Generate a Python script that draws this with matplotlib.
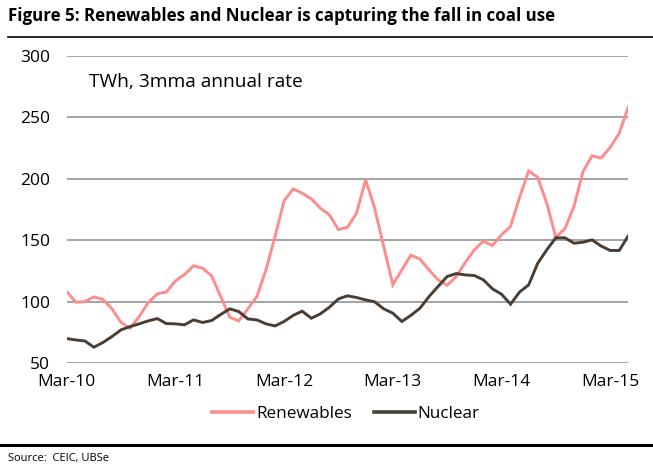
import matplotlib
matplotlib.use("Agg")
import matplotlib.pyplot as plt
from matplotlib.lines import Line2D

# Monthly data, Mar-10 .. May-15 (TWh, 3mma annual rate)
months = ["Mar-10", "Apr-10", "May-10", "Jun-10", "Jul-10", "Aug-10", "Sep-10", "Oct-10", "Nov-10", "Dec-10",
          "Jan-11", "Feb-11", "Mar-11", "Apr-11", "May-11", "Jun-11", "Jul-11", "Aug-11", "Sep-11", "Oct-11",
          "Nov-11", "Dec-11", "Jan-12", "Feb-12", "Mar-12", "Apr-12", "May-12", "Jun-12", "Jul-12", "Aug-12",
          "Sep-12", "Oct-12", "Nov-12", "Dec-12", "Jan-13", "Feb-13", "Mar-13", "Apr-13", "May-13", "Jun-13",
          "Jul-13", "Aug-13", "Sep-13", "Oct-13", "Nov-13", "Dec-13", "Jan-14", "Feb-14", "Mar-14", "Apr-14",
          "May-14", "Jun-14", "Jul-14", "Aug-14", "Sep-14", "Oct-14", "Nov-14", "Dec-14", "Jan-15", "Feb-15",
          "Mar-15", "Apr-15", "May-15"]

renewables = [108.4, 99.7, 100.2, 104.0, 102.0, 94.3, 83.2, 78.5, 88.0, 99.4,
              106.5, 108.0, 117.0, 122.2, 129.3, 127.4, 121.1, 104.3, 87.5, 84.5,
              94.3, 104.3, 126.0, 153.1, 182.2, 191.8, 188.4, 183.8, 176.2, 170.8,
              158.8, 160.7, 172.1, 199.3, 176.2, 145.0, 113.8, 126.0, 138.0, 134.7,
              126.0, 117.9, 113.5, 120.6, 132.0, 142.3, 149.3, 145.8, 154.5, 161.3,
              185.0, 206.6, 201.2, 180.3, 152.6, 159.4, 177.6, 206.0, 218.8, 216.9,
              225.6, 237.2, 258.4]

nuclear = [70.1, 69.0, 68.2, 63.1, 66.9, 71.8, 77.2, 79.9, 82.1, 84.5,
           86.4, 82.3, 82.1, 81.3, 85.3, 83.2, 84.8, 89.7, 94.3, 92.1,
           86.1, 85.3, 82.1, 80.4, 84.0, 89.0, 92.4, 86.7, 90.2, 95.6,
           102.4, 104.9, 103.5, 101.6, 100.0, 94.3, 90.8, 84.0, 89.0, 94.8,
           104.3, 112.5, 120.6, 123.0, 121.9, 121.4, 117.9, 110.6, 106.2, 98.1,
           108.0, 113.8, 131.4, 142.3, 152.1, 152.1, 147.7, 148.5, 150.4, 145.4,
           141.8, 141.8, 153.7]

series_names = ["Renewables", "Nuclear"]
series_colors = ["#ff8c8c", "#4a3e34"]
y_ticks = [50, 100, 150, 200, 250, 300]
x_tick_labels = ["Mar-10", "Mar-11", "Mar-12", "Mar-13", "Mar-14", "Mar-15"]

title = "Figure 5: Renewables and Nuclear is capturing the fall in coal use"
unit_note = "TWh, 3mma annual rate"
source = "Source:  CEIC, UBSe"

FONT = ["Open Sans", "DejaVu Sans"]
plt.rcParams["font.family"] = FONT

W, H = 653, 473
fig = plt.figure(figsize=(W / 100, H / 100), dpi=100)

ax = fig.add_axes([66.7 / W, 1 - 363.3 / H, (628.3 - 66.7) / W, (363.3 - 56) / H])
x = list(range(len(months)))
ax.plot(x, renewables, color=series_colors[0], lw=2.1, solid_joinstyle="miter", zorder=3)
ax.plot(x, nuclear, color=series_colors[1], lw=2.1, solid_joinstyle="miter", zorder=3)

ax.set_xlim(0, len(months) - 1)
ax.set_ylim(50, 300)
ax.set_yticks(y_ticks)
ax.set_yticklabels([str(v) for v in y_ticks])
tick_pos = [months.index(m) for m in x_tick_labels]
ax.set_xticks(tick_pos)
ax.set_xticklabels(x_tick_labels)
ax.tick_params(axis="both", length=0, labelsize=12.5, colors="#000000")
ax.tick_params(axis="y", pad=12)
ax.tick_params(axis="x", pad=7.5)
for s in ax.spines.values():
    s.set_visible(False)
ax.grid(axis="y", color="#8a8a8a", lw=1.1)
ax.set_axisbelow(True)

ax.text((89 - 66.7) / 561.6, 0.916, unit_note, transform=ax.transAxes, fontsize=13.8, va="center", ha="left")

handles = [Line2D([], [], color=c, lw=2.6) for c in series_colors]
fig.legend(handles, series_names, loc="center", bbox_to_anchor=(346 / W, 1 - 414 / H),
           ncol=2, frameon=False, fontsize=12.3, handlelength=2.4, handletextpad=0.15,
           columnspacing=1.3)

fig.text(8 / W, 1 - 16 / H, title, fontsize=12.2, fontweight="bold", va="center", ha="left")
fig.add_artist(Line2D([8 / W, 1], [1 - 37.5 / H] * 2, color="black", lw=1.2, transform=fig.transFigure))
fig.add_artist(Line2D([0, 1], [1 - 445 / H] * 2, color="black", lw=2.2, transform=fig.transFigure))
fig.text(8 / W, 1 - 458 / H, source, fontsize=8, va="center", ha="left")

fig.savefig("out.png", dpi=100)
